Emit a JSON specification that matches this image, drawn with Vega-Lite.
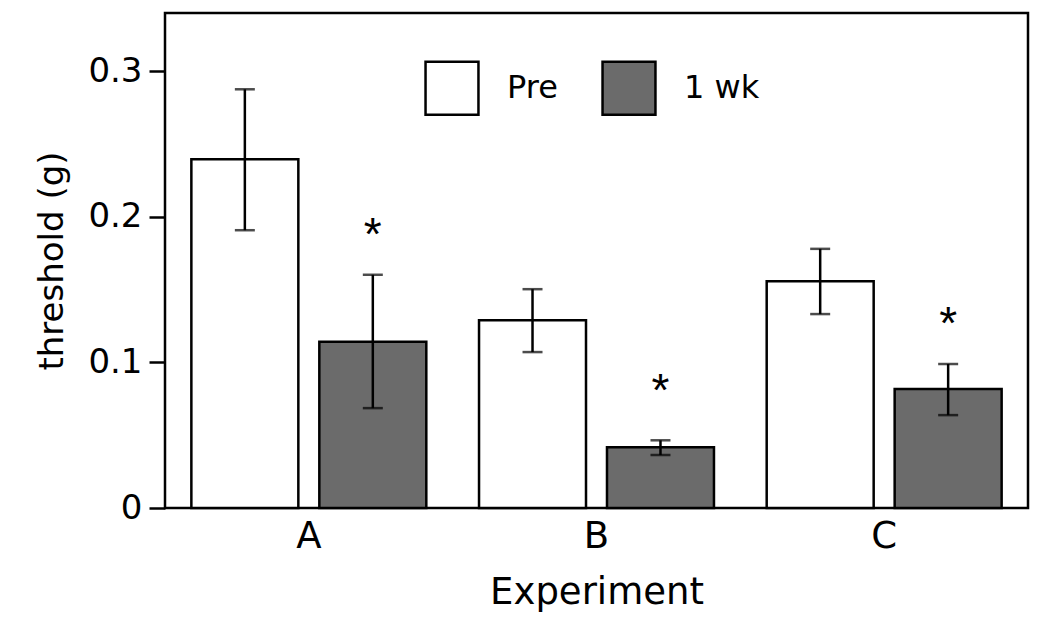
{
  "$schema": "https://vega.github.io/schema/vega-lite/v6.json",
  "autosize": {"type": "none"},
  "padding": {"left": 165, "top": 13, "right": 22, "bottom": 121},
  "width": 863,
  "height": 495,
  "background": "white",
  "config": {
    "view": {"stroke": "black", "strokeWidth": 2.5},
    "font": "DejaVu Sans",
    "axis": {"grid": false, "domain": false, "labelColor": "black", "titleColor": "black", "labelFont": "DejaVu Sans", "titleFont": "DejaVu Sans", "titleFontWeight": "normal"}
  },
  "data": {
    "values": [
      {"exp": "A", "time": "Pre", "mean": 0.2396, "lo": 0.1908, "hi": 0.2876, "sig": null},
      {"exp": "A", "time": "1 wk", "mean": 0.1142, "lo": 0.0686, "hi": 0.1602, "sig": 0.193},
      {"exp": "B", "time": "Pre", "mean": 0.129, "lo": 0.1071, "hi": 0.1503, "sig": null},
      {"exp": "B", "time": "1 wk", "mean": 0.0417, "lo": 0.0364, "hi": 0.0465, "sig": 0.0858},
      {"exp": "C", "time": "Pre", "mean": 0.1558, "lo": 0.1332, "hi": 0.178, "sig": null},
      {"exp": "C", "time": "1 wk", "mean": 0.0817, "lo": 0.0638, "hi": 0.0989, "sig": 0.1318}
    ]
  },
  "encoding": {
    "x": {
      "field": "exp", "type": "nominal",
      "scale": {"paddingInner": 0, "paddingOuter": 0},
      "axis": {"title": "Experiment", "labelAngle": 0, "ticks": false, "labelFontSize": 37, "labelPadding": 10, "titleFontSize": 37, "titlePadding": 20}
    },
    "xOffset": {
      "field": "time", "type": "nominal",
      "scale": {"domain": ["Pre", "1 wk"], "paddingInner": 0.164, "paddingOuter": 0.206}
    }
  },
  "layer": [
    {
      "mark": {"type": "bar", "stroke": "black", "strokeWidth": 2.5},
      "encoding": {
        "y": {
          "field": "mean", "type": "quantitative",
          "scale": {"domain": [0, 0.34], "nice": false, "zero": true},
          "axis": {"title": "threshold (g)", "values": [0, 0.1, 0.2, 0.3], "labelExpr": "datum.value == 0 ? '0' : format(datum.value, '.1f')", "labelFontSize": 34, "labelPadding": 7, "tickSize": 16, "tickWidth": 2.5, "tickColor": "black", "titleFontSize": 34, "titlePadding": 18}
        },
        "fill": {
          "field": "time", "type": "nominal",
          "scale": {"domain": ["Pre", "1 wk"], "range": ["white", "#6b6b6b"]},
          "legend": {
            "title": null, "orient": "none", "legendX": 259, "legendY": 47, "direction": "horizontal",
            "symbolType": "square", "symbolSize": 2800, "symbolStrokeColor": "black", "symbolStrokeWidth": 2.5,
            "labelFontSize": 32, "labelFont": "DejaVu Sans", "labelColor": "black", "labelOffset": 27, "columnPadding": 39
          }
        }
      }
    },
    {
      "mark": {"type": "rule", "color": "black", "strokeWidth": 2.5},
      "encoding": {
        "y": {"field": "lo", "type": "quantitative"},
        "y2": {"field": "hi"}
      }
    },
    {
      "mark": {"type": "tick", "color": "black", "thickness": 2.5, "size": 20},
      "encoding": {"y": {"field": "lo", "type": "quantitative"}}
    },
    {
      "mark": {"type": "tick", "color": "black", "thickness": 2.5, "size": 20},
      "encoding": {"y": {"field": "hi", "type": "quantitative"}}
    },
    {
      "transform": [{"filter": "isValid(datum.sig)"}],
      "mark": {"type": "text", "text": "*", "font": "Liberation Sans", "fontSize": 46, "color": "black", "baseline": "middle", "dy": 9},
      "encoding": {"y": {"field": "sig", "type": "quantitative"}}
    }
  ]
}
